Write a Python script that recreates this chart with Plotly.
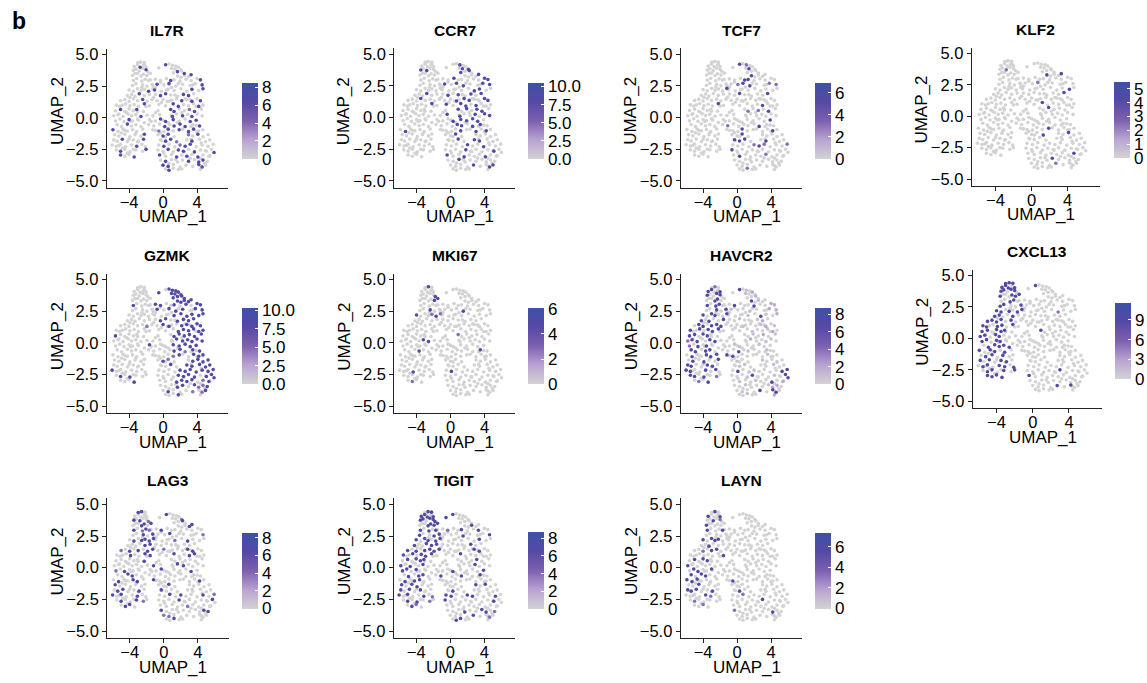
import plotly.graph_objects as go

# ---- cell embedding (rows of cells: left lobe, right lobe, then cells seen only in grey) ----
UMAP1_ROWS = [
 [-3.0,-2.6,-2.2],[-3.4,-3.0,-2.7,-2.3,-2.0],[-3.5,-3.2,-2.8,-2.4,-2.0,-1.8],[-3.6,-3.3,-2.6,-2.3,-1.9,-1.5],
 [-3.5,-3.1,-2.5,-2.1,-1.7],[-3.6,-3.2,-2.4,-1.9,-1.3],[-4.0,-3.5,-3.0,-2.6,-2.2,-1.7,-1.2],[-4.2,-3.7,-3.3,-2.8,-2.2,-1.6],
 [-5.0,-4.5,-4.0,-3.5,-3.0,-2.4,-1.9,-1.3],[-5.5,-5.1,-4.4,-3.9,-3.4,-2.9,-2.2,-1.6],[-5.6,-5.0,-4.5,-4.0,-3.5,-3.1,-2.3],
 [-5.8,-5.3,-4.7,-4.1,-3.7,-3.2,-2.6],[-5.6,-5.1,-4.6,-4.0,-3.6,-3.0],[-5.4,-4.9,-4.2,-3.7,-3.2,-2.6],
 [-5.9,-5.3,-4.7,-4.2,-3.6,-3.1,-2.4],[-5.7,-5.2,-4.5,-3.9,-3.3,-2.6,-2.2],[-5.8,-5.4,-4.8,-4.2,-3.5,-2.9,-2.3],
 [-6.0,-5.5,-5.0,-4.4,-3.7,-3.1,-2.5,-2.1],[-5.5,-5.0,-4.5,-3.9,-3.2,-2.4,-2.0],[-5.0,-4.5,-4.0,-3.4],
 [0.3,0.7,1.1,1.5],[-0.5,1.0,1.4,1.8,2.1],[1.2,1.7,2.2,2.5],[1.7,2.1,2.5,3.0,3.3],
 [-0.9,-0.3,0.4,0.9,1.3,2.0,2.7,3.3,4.0,4.4],[-1.2,-0.7,0.1,0.7,1.5,2.3,3.2,3.8,4.6],[-1.0,-0.2,0.6,1.3,2.1,2.8,3.4,4.2,4.7],
 [-0.9,-0.3,0.3,0.9,1.7,2.4,3.0,3.6],[-0.7,0.0,0.7,1.6,2.2,2.8,3.4,4.0,4.4],[-0.5,0.3,1.2,1.8,2.4,3.0,3.6,4.2,4.7],
 [-0.6,0.9,1.3,1.9,2.5,3.1,3.7,4.5],[-1.2,-0.4,1.1,1.6,2.3,2.9,3.4,4.0,4.6],[-1.6,-0.9,-0.3,0.3,1.2,1.9,2.6,3.2,3.9],
 [-1.7,-1.1,-0.4,0.2,0.8,1.3,2.0,2.6,3.5,4.3],[-1.2,-0.5,0.1,0.6,1.2,1.9,3.0,3.6,4.2,4.7],[-0.6,0.0,0.6,1.3,3.0,3.5,4.1,4.7,5.3],
 [-0.3,0.3,0.9,1.6,2.8,3.4,4.3,5.0,5.5],[-0.5,0.1,0.7,1.4,2.0,2.6,3.2,3.9,4.6,5.3,5.9],[-0.6,0.0,0.6,1.2,1.8,2.4,3.0,3.7,4.4,5.1,5.7,6.0],
 [-0.4,0.3,1.0,1.6,2.2,2.8,3.4,4.1,4.7,5.4],[-0.3,0.3,1.0,1.7,2.3,3.0,3.7,4.2,4.7,5.2],[0.0,0.6,1.2,2.0,2.7,3.5,4.2,4.6,5.0],
 [0.3,0.7,1.2,1.8,2.2,4.4],
 [-4.8,-5.2,-4.3,-3.0,-2.0,-1.1,-0.9,-0.3,0.4,1.0,1.8,3.5,-0.2,0.5,1.0,1.4,2.6,3.2,3.9,2.2,1.0,-0.9,-1.9,-2.2,-1.4,0.0,0.6,1.7,2.3,3.3,3.9,-0.9,-0.3,0.3,3.3,4.0,4.5,5.0,5.5,4.4,4.9,4.4,3.2,2.5,1.5,0.7,0.1,-0.2,-4.8,-4.2,-3.5,-3.0,-4.5,-4.9,-4.0,-3.2,-5.2,-3.8,-2.9,-3.9,-2.5,-1.5,-3.0,-2.2,-2.7],
]
UMAP2_ROWS = [
 [4.35,4.42,4.38],[4.05,4.2,4.0,4.15,4.02],[3.75,3.85,3.7,3.9,3.8,3.65],[3.35,3.5,3.3,3.45,3.35,3.5],
 [2.95,3.1,2.9,3.05,2.95],[2.55,2.7,2.6,2.5,2.65],[2.2,2.1,2.3,2.15,2.25,2.1,2.3],[1.75,1.85,1.7,1.9,1.75,1.85],
 [1.35,1.45,1.3,1.5,1.35,1.45,1.3,1.45],[1.0,0.9,1.1,0.95,1.05,0.9,1.1,0.95],[0.55,0.65,0.5,0.7,0.55,0.65,0.5],
 [0.15,0.25,0.1,0.3,0.15,0.25,0.1],[-0.25,-0.1,-0.3,-0.15,-0.25,-0.1],[-0.55,-0.7,-0.5,-0.65,-0.55,-0.7],
 [-0.95,-1.1,-0.9,-1.05,-0.95,-1.1,-0.9],[-1.35,-1.45,-1.3,-1.5,-1.35,-1.45,-1.3],[-1.75,-1.85,-1.7,-1.9,-1.75,-1.85,-1.7],
 [-2.15,-2.25,-2.1,-2.3,-2.15,-2.25,-2.1,-2.3],[-2.55,-2.65,-2.5,-2.7,-2.55,-2.65,-2.5],[-2.95,-3.05,-2.9,-3.1],
 [4.2,4.25,4.15,4.1],[3.95,3.9,3.85,4.0,3.8],[3.55,3.65,3.7,3.5],[3.3,3.2,3.35,3.25,3.4],
 [3.05,2.95,3.1,2.95,3.0,2.9,3.05,2.95,3.1,3.0],[2.55,2.65,2.6,2.7,2.5,2.65,2.55,2.7,2.6],[2.2,2.1,2.25,2.15,2.3,2.1,2.25,2.15,2.3],
 [1.85,1.75,1.9,1.8,1.7,1.85,1.75,1.9],[1.35,1.45,1.3,1.5,1.35,1.45,1.3,1.5,1.35],[1.05,0.95,1.1,0.9,1.05,0.95,1.1,0.9,1.0],
 [0.55,0.65,0.5,0.7,0.55,0.65,0.5,0.7],[0.15,0.25,0.1,0.3,0.15,0.25,0.1,0.3,0.15],[-0.15,-0.25,-0.1,-0.3,-0.15,-0.25,-0.1,-0.3,-0.2],
 [-0.55,-0.65,-0.5,-0.7,-0.55,-0.65,-0.5,-0.7,-0.55,-0.65],[-0.95,-1.05,-1.1,-0.9,-1.05,-0.95,-1.1,-0.9,-1.05,-0.95],
 [-1.35,-1.45,-1.3,-1.5,-1.35,-1.45,-1.3,-1.5,-1.35],[-1.75,-1.85,-1.7,-1.9,-1.75,-1.85,-1.7,-1.9,-1.75],
 [-2.15,-2.25,-2.1,-2.3,-2.15,-2.25,-2.1,-2.3,-2.15,-2.25,-2.1],[-2.55,-2.65,-2.5,-2.7,-2.55,-2.65,-2.5,-2.7,-2.55,-2.65,-2.5,-2.75],
 [-2.95,-3.05,-2.9,-3.1,-2.95,-3.05,-2.9,-3.1,-2.95,-3.05],[-3.35,-3.45,-3.3,-3.5,-3.35,-3.45,-3.3,-3.5,-3.35,-3.45],
 [-3.75,-3.85,-3.7,-3.9,-3.75,-3.85,-3.7,-3.9,-3.75],[-4.05,-4.15,-4.0,-4.1,-4.05,-4.1],
 [1.0,0.3,0.4,0.5,0.9,1.6,2.4,2.8,2.2,2.4,2.7,2.6,1.2,1.3,1.4,1.8,1.5,1.4,0.9,0.4,0.2,0.4,0.2,-0.4,-0.3,-0.2,-0.4,-0.4,-0.9,-0.7,-0.6,-1.0,-1.2,-1.5,-1.7,-1.1,-2.0,-2.6,-3.0,-3.2,-3.6,-3.8,-3.2,-2.7,-3.3,-3.6,-2.8,-1.8,-2.4,-2.8,-2.5,-1.9,-1.0,-1.2,-1.7,-1.2,-2.2,-0.3,-0.2,1.6,2.4,3.0,3.5,4.2,4.4],
]

# ---- expression level of each cell, row by row (0 = none, 9 = panel maximum; short rows end in zeros) ----
GENES = ["IL7R","CCR7","TCF7","KLF2","GZMK","MKI67","HAVCR2","CXCL13","LAG3","TIGIT","LAYN"]
IL7R = "0 007 00007 0 0 0 0000070 000700 00000700 00000070 0700070 0000007 000700 007000 7 0000007 0070007 00000700 0700007 7007 7 0 0707 00007 0007000007 070700007 700000707 07700770 000070707 007700070 07700470 007070700 007770077 0007077707 0407077700 077040700 077407000 07004770000 007077070007 7007070700 0700070770 770000770 07"
CCR7 = "0 0 707 0 0 0 0 000700 00070000 00000070 0 0 0 0 07 0 0 0 0 0 0070 00707 7070 00007 0070000077 070770077 000007700 07070707 007770077 707707000 07070770 077007077 000777770 0000770770 0000707070 007 007077 00007007 000070000700 7007000700 0070000000 000070077 0"
TCF7 = "0 0 0 0 0 0 0000007 0 0 00000070 0 0 0 0 0 0 0 0 0 0 7040 00700 0 7 0007700000 004770044 0 00700007 0 000007 00404070 0 000000007 0400000700 0007000070 007 777007 00004740004 7 0700004 0 0 004"
KLF2 = "0 0 004 0 0 0 0 0 0 0 0 0 0 0 0 0 0 0 0 0 0 0 0 70007 0 0004 00000007 00000007 0 007 00070000 0 0 0 0000070000 000700700 0 0 0 000000007 00007 000040 0"
GZMK = "0 0 0 0 7 0 0 0 00000040 0 7 0 0 0 0 0 0 7 0707 0007 0777 77777 7777 77777 7700707077 070777077 000777777 07707777 077077777 000777777 00777777 000777777 700077777 0000077477 0000470777 074007777 007077777 00007777777 000077770777 0007777047 0007707447 070004047 0007"
MKI67 = "070 0 000007 000077 0 007 7000474 0 0 0 0 0000077 0 0007 0 0 0 0007 0 04 0 0 0 0 0 00007 0 0 0 0 04 0 0 000000007 0 0 0 07 0 0 0 0 0"
HAVCR2 = "04 77007 700770 007700 70770 00707 7077007 707007 07707770 70707770 7707700 4770077 40707 770770 0700777 0707007 7700770 77007070 7707040 0407 7010 01020 002 701 0700070022 010010022 000107102 00100120 001001201 000100120 00010201 000200110 001100100 0007010010 77000001 01001001 0110001 07011000077 000170001077 0100100702 0010001220 010070770 001002"
CXCL13 = "777 77707 770770 700777 00770 77007 7707077 770070 77770700 77077070 7707770 7707700 770770 077777 7077070 0770700 7070770 07707707 0770707 7777 7 0 0 0 0 0 000004 0 0 0 07 0 0 0 0 0 0 0 0000007 7 0 000070700 0"
LAG3 = "77 0 707004 007707 70474 00707 0707777 000077 40707077 00070077 0000007 0 407 0077 0700770 7 077007 70700700 070074 077 7 00004 007 00077 07 000700004 000407 0 040007700 007007700 0 70077 007000070 0 7000000070 007 7 00707000704 00007000007 000004 7000000077 44 007"
TIGIT = "077 77707 770777 007777 70707 70077 7077077 700777 70707777 70707770 0707770 7070070 770700 070770 0707700 7077 70707 70700704 0707040 074 7 7 0 007 04007007 000070007 0000007 000007 0000077 007 000007 000007 000700007 0700070070 0 00007070 07 77007700070 7000000007 0 0007007704 00007004 077"
LAYN = "07 70007 00704 7 70007 0 7077700 007 00407700 00000007 0707700 7 077007 7077 777 007 7770070 00007400 04 004 0 0 0 0 0 0 0 0 0 0 0 0 0 0 07 0 07 004 0000007 0 4000000700 0 0"
LEVELS = [IL7R,CCR7,TCF7,KLF2,GZMK,MKI67,HAVCR2,CXCL13,LAG3,TIGIT,LAYN]

# ---- colour-bar scales ----
SCALE_MAX = [8.5,10.5,6.9,5.5,10.3,6.05,8.7,11.5,8.6,8.7,7.4]
BAR_TICKS = [[0,2,4,6,8],[0,2.5,5,7.5,10],[0,2,4,6],[0,1,2,3,4,5],[0,2.5,5,7.5,10],[0,2,4,6],[0,2,4,6,8],[0,3,6,9],[0,2,4,6,8],[0,2,4,6,8],[0,2,4,6]]
BAR_LABELS = [["0","2","4","6","8"],["0.0","2.5","5.0","7.5","10.0"],["0","2","4","6"],["0","1","2","3","4","5"],["0.0","2.5","5.0","7.5","10.0"],["0","2","4","6"],["0","2","4","6","8"],["0","3","6","9"],["0","2","4","6","8"],["0","2","4","6","8"],["0","2","4","6"]]
X_TICKS = [-4,0,4]
Y_TICKS = [-5,-2.5,0,2.5,5]

# ---- page layout in pixels: axis left, right, top, bottom; bar left, top, bottom ----
W, H = 1147, 683
BOX = [(107,228,46,186),(395,516,45.5,186),(682,803,45.5,186),(973.5,1102,45,184),
       (107,228,272.5,413),(395,516,272.5,413),(682,803,272.5,413),(974.5,1103.5,268.5,408),
       (107.5,229,499,639.5),(394.5,516,499,639.5),(682,803,499,639.5)]
BAR = [(242,81,157),(529,81,157),(816,81,157),(1115.5,80.5,156),
       (242,308,384),(529,308,384),(816,308,384),(1116.5,303,379),
       (242,534,610),(529,534,610.5),(816,534,610)]
X_RANGE = [-6.62,7.6]
Y_RANGE = [-5.53,5.47]
FONT = "Liberation Sans, Arial, sans-serif"
COLORS = [[0,"#d3d3d3"],[0.25,"#b9a3d2"],[0.5,"#7d60b0"],[0.75,"#5549a5"],[1,"#3d51a6"]]

cells_x = [v for r in UMAP1_ROWS for v in r]
cells_y = [v for r in UMAP2_ROWS for v in r]

def px(x): return x / W
def py(y): return 1 - y / H

def cell_levels(text):
    rows = text.split(" ")
    rows += ["0"] * (len(UMAP1_ROWS) - len(rows))
    out = []
    for row, cells in zip(rows, UMAP1_ROWS):
        row = row.ljust(len(cells), "0")[:len(cells)]
        out += [int(c) for c in row]
    return out

fig = go.Figure()
ann = [dict(text="<b>b</b>", x=px(10), y=py(18), xref="paper", yref="paper", xanchor="left", yanchor="middle",
            showarrow=False, font=dict(family=FONT, size=23, color="black"))]
layout = {}
for i, gene in enumerate(GENES):
    n = "" if i == 0 else str(i + 1)
    l, r, t, b = BOX[i]
    bl, bt, bb = BAR[i]
    layout["xaxis" + n] = dict(domain=[px(l), px(r)], range=X_RANGE, tickvals=X_TICKS, anchor="y" + n, ticklabelstandoff=-5,
                               showline=True, linecolor="#222", linewidth=1.3, ticks="outside", ticklen=4, tickwidth=1.3,
                               tickcolor="#222", showgrid=False, zeroline=False, tickfont=dict(family=FONT, size=16.5, color="black"))
    layout["yaxis" + n] = dict(domain=[py(b), py(t)], range=Y_RANGE, tickvals=Y_TICKS, tickformat=".1f", anchor="x" + n,
                               showline=True, linecolor="#222", linewidth=1.3, ticks="outside", ticklen=4, tickwidth=1.3,
                               tickcolor="#222", showgrid=False, zeroline=False, tickfont=dict(family=FONT, size=16.5, color="black"))
    lv = cell_levels(LEVELS[i])
    order = sorted(range(len(lv)), key=lambda k: lv[k])
    vals = [lv[k] / 9 * SCALE_MAX[i] for k in order]
    fig.add_trace(go.Scatter(
        x=[cells_x[k] for k in order], y=[cells_y[k] for k in order], mode="markers", name=gene,
        xaxis="x" + n, yaxis="y" + n, showlegend=False,
        marker=dict(size=3.6, color=vals, cmin=0, cmax=SCALE_MAX[i], colorscale=COLORS, line=dict(width=0),
                    colorbar=dict(x=px(bl), xanchor="left", y=py(bb), yanchor="bottom", xpad=0, ypad=0,
                                  lenmode="pixels", len=bb - bt, thicknessmode="pixels", thickness=15.5,
                                  outlinewidth=0, ticks="inside", ticklen=3, tickcolor="white", tickwidth=1,
                                  tickvals=BAR_TICKS[i], ticktext=BAR_LABELS[i],
                                  tickfont=dict(family=FONT, size=17, color="black")))))
    cx = (l + r) / 2
    ann.append(dict(text="<b>%s</b>" % gene, x=px(cx), y=py(t - 18), xref="paper", yref="paper", showarrow=False,
                    xanchor="center", yanchor="middle", font=dict(family=FONT, size=15.5, color="black")))
    ann.append(dict(text="UMAP_1", x=px(cx + 5.5), y=py(b + 29.5), xref="paper", yref="paper", showarrow=False,
                    xanchor="center", yanchor="middle", font=dict(family=FONT, size=17, color="black")))
    ann.append(dict(text="UMAP_2", x=px(l - 50), y=py((t + b) / 2 - 7), xref="paper", yref="paper", showarrow=False, textangle=-90,
                    xanchor="center", yanchor="middle", font=dict(family=FONT, size=17, color="black")))

fig.update_layout(width=W, height=H, margin=dict(l=0, r=0, t=0, b=0), paper_bgcolor="white", plot_bgcolor="white",
                  annotations=ann, font=dict(family=FONT), **layout)
fig.write_html("out.html", config=dict(displayModeBar=False), post_script="document.body.style.margin='0';")
